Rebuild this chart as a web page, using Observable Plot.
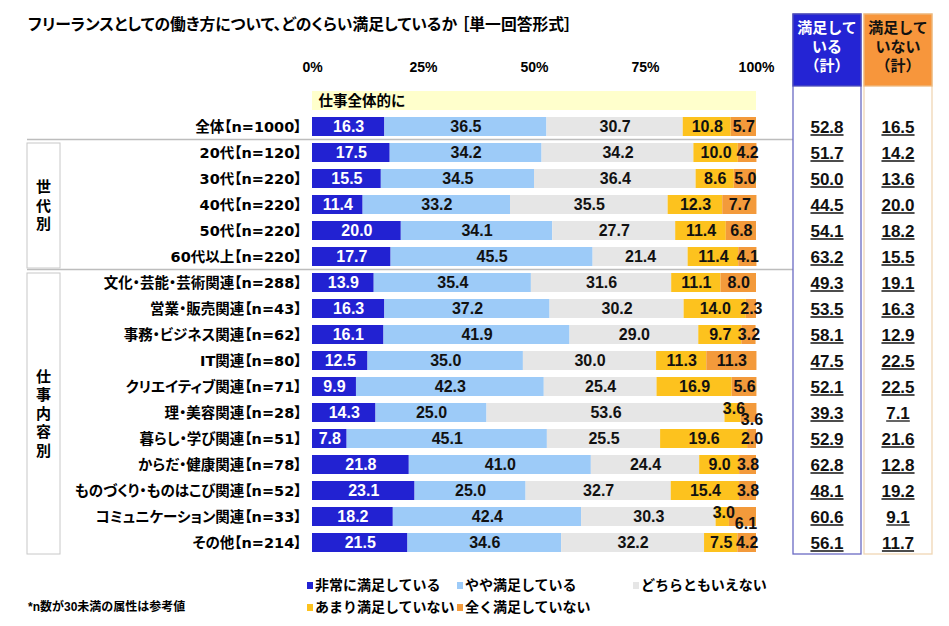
<!DOCTYPE html>
<html lang="ja"><head><meta charset="utf-8">
<script src="https://cdn.jsdelivr.net/npm/d3@7"></script>
<script src="https://cdn.jsdelivr.net/npm/@observablehq/plot@0.6"></script>
<style>
html,body{margin:0;padding:0;background:#fff;}
body{font-family:"Liberation Sans","Noto Sans CJK JP",sans-serif;color:#000;}
#wrap{position:relative;width:949px;height:626px;overflow:hidden;}
#chart{position:absolute;left:0;top:0;}
#title{position:absolute;left:28px;top:16px;font-size:15.8px;font-weight:bold;white-space:nowrap;line-height:18px;font-feature-settings:"palt";}
.leg{position:absolute;font-size:14px;font-weight:bold;white-space:nowrap;line-height:18px;}
.leg i{display:inline-block;width:6px;height:7px;margin-right:2px;vertical-align:middle;position:relative;top:-1px;}
#note{position:absolute;left:28px;top:599px;font-size:12px;font-weight:bold;line-height:16px;white-space:nowrap;}
</style></head>
<body>
<div id="wrap">
  <div id="chart"></div>
  <div id="title">フリーランスとしての働き方について、どのくらい満足しているか ［単一回答形式］</div>
  <div id="legend"></div>
  <div id="note">*n数が30未満の属性は参考値</div>
</div>
<script>
// ---------- data ----------
const headerRow = "仕事全体的に";
const totalCats = ["全体【n=1000】"];
const ageCats = ["20代【n=120】","30代【n=220】","40代【n=220】","50代【n=220】","60代以上【n=220】"];
const jobCats = ["文化・芸能・芸術関連【n=288】","営業・販売関連【n=43】","事務・ビジネス関連【n=62】","IT関連【n=80】","クリエイティブ関連【n=71】","理・美容関連【n=28】","暮らし・学び関連【n=51】","からだ・健康関連【n=78】","ものづくり・ものはこび関連【n=52】","コミュニケーション関連【n=33】","その他【n=214】"];
const categories = [...totalCats, ...ageCats, ...jobCats];

const verySatisfied = [16.3,17.5,15.5,11.4,20.0,17.7,13.9,16.3,16.1,12.5,9.9,14.3,7.8,21.8,23.1,18.2,21.5];
const someSatisfied = [36.5,34.2,34.5,33.2,34.1,45.5,35.4,37.2,41.9,35.0,42.3,25.0,45.1,41.0,25.0,42.4,34.6];
const neither       = [30.7,34.2,36.4,35.5,27.7,21.4,31.6,30.2,29.0,30.0,25.4,53.6,25.5,24.4,32.7,30.3,32.2];
const notVery       = [10.8,10.0,8.6,12.3,11.4,11.4,11.1,14.0,9.7,11.3,16.9,3.6,19.6,9.0,15.4,3.0,7.5];
const notAtAll      = [5.7,4.2,5.0,7.7,6.8,4.1,8.0,2.3,3.2,11.3,5.6,3.6,2.0,3.8,3.8,6.1,4.2];
const totalSatisfied = [52.8,51.7,50.0,44.5,54.1,63.2,49.3,53.5,58.1,47.5,52.1,39.3,52.9,62.8,48.1,60.6,56.1];
const totalNot       = [16.5,14.2,13.6,20.0,18.2,15.5,19.1,16.3,12.9,22.5,22.5,7.1,21.6,12.8,19.2,9.1,11.7];

const levels = ["非常に満足している","やや満足している","どちらともいえない","あまり満足していない","全く満足していない"];
const levelColors = ["#2222d2","#9dcbf8","#e6e6e6","#fdc21e","#f39a3b"];
const xTicks = [0,25,50,75,100];
const groups = [{label:"世代別", members: ageCats},{label:"仕事内容別", members: jobCats}];
const tableHeads = [["満足して","いる","（計）"],["満足して","いない","（計）"]];

// ---------- build ----------
const series = [verySatisfied, someSatisfied, neither, notVery, notAtAll];
const segs = [];
categories.forEach((cat, i) => {
  let acc = 0;
  series.forEach((arr, j) => {
    const v = arr[i];
    segs.push({cat, level: levels[j], j, value: v, x1: acc, x2: acc + v, mid: acc + v / 2, smallY: notVery[i] < 5});
    acc += v;
  });
});
const fmt = d => d.value.toFixed(1);
const normal = segs.filter(d => !(d.smallY && d.j >= 3));
const offY = segs.filter(d => d.smallY && d.j === 3);
const offO = segs.filter(d => d.smallY && d.j === 4);
const FS = 16;
const labelFont = '"DejaVu Sans","Noto Sans CJK JP",sans-serif';

const plot = Plot.plot({
  width: 949, height: 572,
  marginLeft: 312, marginRight: 193, marginTop: 76, marginBottom: 4,
  style: {fontFamily: '"Liberation Sans","Noto Sans CJK JP",sans-serif', fontSize: "14px", overflow: "visible", background: "#fff"},
  x: {domain: [0, 100]},
  y: {type: "band", domain: [headerRow, ...categories], paddingInner: 0.26, paddingOuter: 0.25, label: null},
  color: {domain: levels, range: levelColors},
  marks: [
    Plot.barX([headerRow], {x1: 0, x2: 100, y: d => d, fill: "#ffffcc"}),
    Plot.text([headerRow], {x: 0, y: d => d, text: d => d, textAnchor: "start", dx: 6, fontWeight: "bold", fontSize: 14.5, fill: "#000"}),
    Plot.barX(segs, {x1: "x1", x2: "x2", y: "cat", fill: "level"}),
    Plot.text(normal.filter(d => d.j === 0), {x: "mid", y: "cat", text: fmt, fill: "#fff", fontWeight: "bold", fontSize: FS}),
    Plot.text(normal.filter(d => d.j > 0), {x: "mid", y: "cat", text: fmt, fill: "#111", fontWeight: "bold", fontSize: FS}),
    Plot.text(offY, {x: "mid", y: "cat", text: fmt, fill: "#111", fontWeight: "bold", fontSize: FS, dy: -4, dx: 1}),
    Plot.text(offO, {x: "mid", y: "cat", text: fmt, fill: "#111", fontWeight: "bold", fontSize: FS, dy: 7, dx: 3}),
    Plot.axisX({anchor: "top", ticks: xTicks, tickFormat: d => `${d}%`, tickSize: 0, tickPadding: 5, fontSize: 14, fontWeight: "bold", label: null}),
    Plot.axisY({anchor: "left", tickSize: 0, tickPadding: 11, fontSize: 14.5, fontWeight: "bold", fontFamily: labelFont, tickFormat: d => d === headerRow ? "" : d, label: null})
  ]
});
document.getElementById("chart").appendChild(plot);
// proportional CJK punctuation (closer to the original proportional gothic)
d3.select(plot).selectAll("text").style("font-feature-settings", '"palt"');

// ---------- decorations drawn from Plot's scales ----------
const xs = plot.scale("x"), ys = plot.scale("y");
const X = v => xs.apply(v), Y = v => ys.apply(v);
const bw = ys.bandwidth, st = ys.step;
const svg = d3.select(plot);
const deco = svg.append("g");
const leftEdge = 27;
const colL = [X(100) + 37, X(100) + 108];
const colW = 68;
const headTop = 14;
const headBottom = Y(headerRow) - 5;
const lastCat = categories[categories.length - 1];
const tableBottom = Y(lastCat) + bw + 2;

// separators between blocks
[totalCats[totalCats.length - 1], ageCats[ageCats.length - 1]].forEach(c => {
  const yy = Y(c) + bw + (st - bw) / 2;
  deco.append("line").attr("x1", leftEdge).attr("x2", colL[0]).attr("y1", yy).attr("y2", yy)
    .attr("stroke", "#bdbdbd").attr("stroke-width", 1.5);
});

// group boxes
groups.forEach(g => {
  const top = Y(g.members[0]), bot = Y(g.members[g.members.length - 1]) + bw + 2;
  deco.append("rect").attr("x", leftEdge).attr("y", top).attr("width", 33).attr("height", bot - top)
    .attr("fill", "none").attr("stroke", "#c8c8c8").attr("stroke-width", 1);
  const chars = Array.from(g.label), lh = 18.5, cy = (top + bot) / 2;
  chars.forEach((ch, k) => {
    deco.append("text").attr("x", leftEdge + 16.5).attr("y", cy + (k - (chars.length - 1) / 2) * lh)
      .attr("text-anchor", "middle").attr("dy", "0.36em")
      .attr("font-size", 15).attr("font-weight", "bold").text(ch);
  });
});

// summary columns
const colStyles = [
  {fill: "#2424d4", stroke: "#5050bb", text: "#fff", body: "#6a6ac4"},
  {fill: "#f7963c", stroke: "#eebb80", text: "#111", body: "#f0d6b4"}
];
const colVals = [totalSatisfied, totalNot];
colL.forEach((cx, k) => {
  const s = colStyles[k];
  deco.append("rect").attr("x", cx).attr("y", headTop).attr("width", colW).attr("height", tableBottom - headTop)
    .attr("fill", "#fff").attr("stroke", s.body).attr("stroke-width", 1.3);
  deco.append("rect").attr("x", cx).attr("y", headTop).attr("width", colW).attr("height", headBottom - headTop)
    .attr("fill", s.fill).attr("stroke", s.stroke).attr("stroke-width", 1.3);
  tableHeads[k].forEach((ln, m) => {
    deco.append("text").attr("x", cx + colW / 2).attr("y", headTop + 14 + m * 19)
      .attr("text-anchor", "middle").attr("dy", "0.36em")
      .attr("font-size", 15).attr("font-weight", "bold").attr("fill", s.text).text(ln);
  });
  categories.forEach((c, i) => {
    const cy = Y(c) + bw / 2;
    const t = deco.append("text").attr("x", cx + colW / 2).attr("y", cy)
      .attr("text-anchor", "middle").attr("dy", "0.36em")
      .attr("font-size", 17).attr("font-weight", "bold").attr("fill", "#111")
      .text(colVals[k][i].toFixed(1));
    const w = t.node().getComputedTextLength();
    deco.append("line").attr("x1", cx + colW / 2 - w / 2).attr("x2", cx + colW / 2 + w / 2)
      .attr("y1", cy + 8.5).attr("y2", cy + 8.5).attr("stroke", "#111").attr("stroke-width", 1.3);
  });
});

// ---------- legend ----------
const legPos = [[307,576],[457,576],[633,576],[307,598],[457,598]];
const leg = document.getElementById("legend");
levels.forEach((lv, i) => {
  const d = document.createElement("div");
  d.className = "leg";
  d.style.left = legPos[i][0] + "px";
  d.style.top = legPos[i][1] + "px";
  d.innerHTML = `<i style="background:${levelColors[i]}"></i>${lv}`;
  leg.appendChild(d);
});
</script>
</body></html>
